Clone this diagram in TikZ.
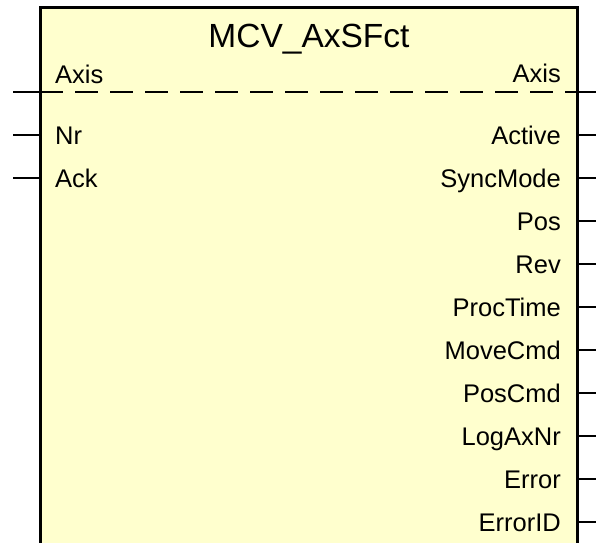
\documentclass[tikz,border=0pt]{standalone}
\usepackage{fontspec}
\setmainfont{Liberation Sans}
\definecolor{fbfill}{RGB}{255,255,206}
\begin{document}
\begin{tikzpicture}[x=1pt,y=-1pt,
  frame/.style={line width=3pt},
  stub/.style={line width=2.5pt},
  axisdash/.style={line width=2.5pt, dash pattern=on 23pt off 12pt},
  lbl/.style={inner sep=0pt, font=\fontsize{25.5}{29}\selectfont},
  inlbl/.style={lbl, anchor=base west},
  outlbl/.style={lbl, anchor=base east},
  ttl/.style={inner sep=0pt, anchor=base, font=\fontsize{33.5}{38}\selectfont}]
\useasboundingbox (0,0) rectangle (596,542);
% block body
\fill[fbfill] (40,7) rectangle (577,550);
\draw[frame] (40,550) -- (40,7) -- (577,7) -- (577,550);
% title
\node[ttl] (title) at (309,47) {MCV\_AxSFct};
% axis in/out
\coordinate (axL) at (40,92);
\coordinate (axR) at (577,92);
\coordinate (axLend) at (13,92);
\coordinate (axRend) at (596,92);
\draw[stub] (axLend) -- (axL);
\draw[axisdash] (axL) -- (axR);
\draw[stub] (axR) -- (axRend);
\node[inlbl] (axisin) at (55,83) {Axis};
\node[outlbl] (axisout) at (561,82) {Axis};
% inputs
\foreach \name/\yy in {Nr/135, Ack/178}{
  \coordinate (in\name) at (40,\yy);
  \coordinate (in\name end) at (13,\yy);
  \draw[stub] (in\name end) -- (in\name);
  \node[inlbl] (lbl\name) at (55,\yy+9) {\name};
}
% outputs
\foreach \name/\yy in {Active/135, SyncMode/178, Pos/221, Rev/264, ProcTime/307, MoveCmd/350, PosCmd/393, LogAxNr/436, Error/479, ErrorID/522}{
  \coordinate (out\name) at (577,\yy);
  \coordinate (out\name end) at (596,\yy);
  \draw[stub] (out\name) -- (out\name end);
  \node[outlbl] (lbl\name) at (561,\yy+9) {\name};
}
\end{tikzpicture}
\end{document}
